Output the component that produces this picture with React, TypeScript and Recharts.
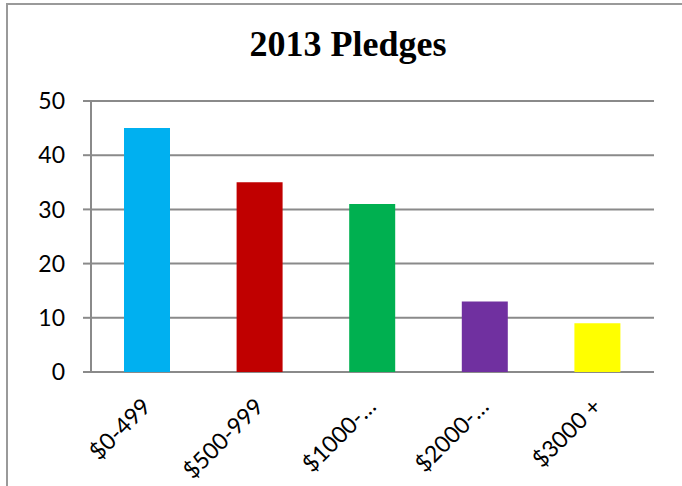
import React from 'react';
import { BarChart, Bar, XAxis, YAxis, CartesianGrid, Cell } from 'recharts';

const categories = ['$0-499', '$500-999', '$1000-…', '$2000-…', '$3000 +'];
const pledges = [45, 35, 31, 13, 9];
const barColors = ['#00B0F0', '#C00000', '#00B050', '#7030A0', '#FFFF00'];
const yTicks = [0, 10, 20, 30, 40, 50];
const boundaryTicks = [0, 1, 2, 3, 4, 5];

const data = categories.map((c, i) => ({ name: c, value: pledges[i] }));

const GRID = '#8a8a8a';
const LABEL_FONT = 'Lato, "Open Sans", sans-serif';

const CatTick = (props: any) => {
  const { x, payload } = props;
  const ax = x + 5;
  const ay = 408;
  return (
    <text
      x={ax}
      y={ay}
      transform={`rotate(-45 ${ax} ${ay})`}
      textAnchor="end"
      fontFamily={LABEL_FONT}
      fontSize={23}
      fill="#000"
    >
      {payload.value}
    </text>
  );
};

export default function App() {
  return (
    <div
      style={{
        position: 'absolute',
        left: 0,
        top: 0,
        width: 682,
        height: 486,
        background: '#fff',
        overflow: 'hidden',
      }}
    >
      <div
        style={{
          position: 'absolute',
          left: 6,
          top: 3,
          width: 700,
          height: 500,
          borderLeft: '2px solid #9a9a9a',
          borderTop: '2px solid #9a9a9a',
        }}
      />
      <div
        style={{
          position: 'absolute',
          left: 0,
          top: 22,
          width: 696,
          textAlign: 'center',
          fontFamily: '"Liberation Serif", "Times New Roman", serif',
          fontWeight: 'bold',
          fontSize: 36,
          lineHeight: '44px',
          color: '#000',
        }}
      >
        2013 Pledges
      </div>
      <div style={{ position: 'absolute', left: 0, top: 0 }}>
        <BarChart
          width={682}
          height={486}
          data={data}
          margin={{ top: 101, right: 28, bottom: 34, left: 31 }}
        >
          <CartesianGrid
            vertical={false}
            stroke={GRID}
            strokeWidth={2}
            yAxisId="y"
            xAxisId="cat"
          />
          <XAxis
            xAxisId="bound"
            type="number"
            domain={[0, 5]}
            ticks={boundaryTicks}
            height={0}
            tickSize={8}
            tickFormatter={() => ''}
            axisLine={{ stroke: GRID, strokeWidth: 2 }}
            tickLine={{ stroke: GRID, strokeWidth: 2 }}
            allowDataOverflow
          />
          <XAxis
            xAxisId="cat"
            dataKey="name"
            height={80}
            interval={0}
            axisLine={false}
            tickLine={false}
            tickSize={0}
            tick={<CatTick />}
          />
          <YAxis
            yAxisId="y"
            width={60}
            domain={[0, 50]}
            ticks={yTicks}
            tickSize={8}
            tickMargin={18}
            axisLine={{ stroke: GRID, strokeWidth: 2 }}
            tickLine={{ stroke: GRID, strokeWidth: 2 }}
            tick={{ fontFamily: LABEL_FONT, fontSize: 23, fill: '#000' }}
          />
          <Bar
            dataKey="value"
            xAxisId="cat"
            yAxisId="y"
            barSize={46}
            isAnimationActive={false}
          >
            {data.map((d, i) => (
              <Cell key={d.name} fill={barColors[i]} />
            ))}
          </Bar>
        </BarChart>
      </div>
    </div>
  );
}
